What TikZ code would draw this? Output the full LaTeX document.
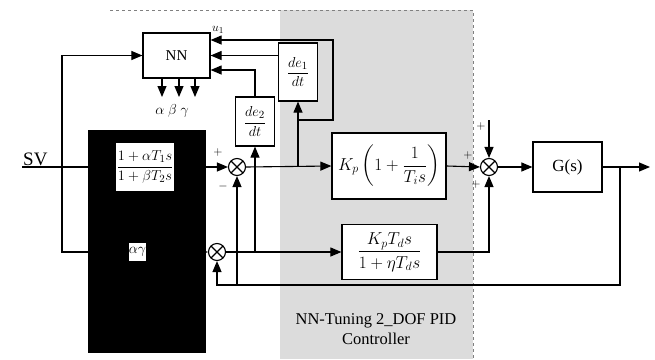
\documentclass[tikz,border=0pt]{standalone}
\usepackage{amsmath}
\usepackage{fontspec}
\setmainfont{Liberation Serif}
\usetikzlibrary{arrows.meta,positioning,calc}
\definecolor{PanelGray}{RGB}{220,220,220}
\tikzset{
  blk/.style={draw, line width=1.2pt, fill=white, inner sep=1pt},
  sumj/.style={circle, draw, line width=1.1pt, fill=white, minimum size=17pt, inner sep=0pt,
    path picture={\draw[line width=1.1pt] (path picture bounding box.north west)--(path picture bounding box.south east)
      (path picture bounding box.north east)--(path picture bounding box.south west);}},
  sig/.style={-{Triangle[length=11pt,width=9pt]}, line width=1.1pt},
  sgn/.style={font=\fontsize{13}{15}\selectfont, inner sep=1pt},
  bigmath/.style={font=\fontsize{17}{19}\selectfont},
}

\begin{document}
\begin{tikzpicture}[x=1pt, y=-1pt, every node/.style={font=\fontsize{15}{17}\selectfont}]
      \useasboundingbox (0,0) rectangle (655,359);
      % panels
      \fill[PanelGray] (280,10) rectangle (473,359);
      \draw[dashed, gray] (110,10) -- (473,10) -- (473,359);
      \fill[black] (88,130) rectangle (206,353);

      % blocks
      \node[blk, minimum width=67pt, minimum height=45pt] (nn) at (176.5,55.5) {NN};
      \node[blk, minimum width=39pt, minimum height=58pt] (de1) at (298,72) {$\dfrac{de_1}{dt}$};
      \node[blk, minimum width=39pt, minimum height=49pt] (de2) at (255,121.5) {$\dfrac{de_2}{dt}$};
      \node[blk, minimum width=56pt, minimum height=50pt] (pre) at (145,167) {$\dfrac{1+\alpha T_1 s}{1+\beta T_2 s}$};
      \node[blk, minimum width=19pt, minimum height=19pt] (ag) at (137.5,252) {$\alpha\gamma$};
      \node[blk, bigmath, minimum width=114pt, minimum height=66pt] (kp) at (389,166) {$K_p\left(1+\dfrac{1}{T_i s}\right)$};
      \node[blk, bigmath, minimum width=95pt, minimum height=55pt] (kd) at (389.5,252) {$\dfrac{K_p T_d s}{1+\eta T_d s}$};
      \node[blk, bigmath, minimum width=69pt, minimum height=50pt] (g) at (567.5,167) {G(s)};
      \node[sumj] (j1) at (237,167) {};
      \node[sumj] (j2) at (217,252) {};
      \node[sumj] (j3) at (489,167) {};

      % points
      \coordinate (sv) at (22,167);
      \coordinate (b0) at (62,167);
      \coordinate (e1) at (298,167);
      \coordinate (u1) at (298,120);
      \coordinate (u1c) at (333,40);
      \coordinate (e2) at (255,252);
      \coordinate (yb) at (620,167);
      \coordinate (fb) at (620,285);
      \coordinate (r) at (489,120);
      \coordinate (y) at (650,167);

      % signals
      \draw[line width=1.1pt] (sv) -- (pre.west);
      \node[anchor=south west, inner sep=1pt, font=\fontsize{19}{21}\selectfont] (svl) at (sv) {SV};
      \draw[sig] (b0) |- (nn.west);
      \draw[sig] (b0) |- (ag.west);
      \draw[sig] (pre.east) -- (j1.west);
      \draw[sig] (ag.east) -- (j2.west);
      \draw[sig] (j1.east) -- (kp.west);
      \draw[sig] (j2.east) -- (kd.west);
      \draw[sig] (e1) -- (de1.south);
      \draw[sig] (u1) -| (u1c) -- (nn.east |- u1c);
      \node[sgn] (u1l) at (218,30) {$u_1$};
      \draw[sig] (de1.west |- nn.east) -- (nn.east);
      \draw[sig] (e2) -- (de2.south);
      \draw[sig] (de2.north) |- ($(nn.east)+(0,14.5)$);
      \foreach \x [count=\i] in {162,179,195} {
        \coordinate (o\i) at (\x,97);
        \draw[sig] (nn.south -| o\i) -- (o\i);
      }
      \node (abc) at (172,111) {$\alpha\ \beta\ \gamma$};

      % feedback and output
      \draw[sig] (yb) -- (fb) -| (j2.south);
      \draw[sig] (j1.south |- fb) -- (j1.south);
      \draw[sig] (kp.east) -- (j3.west);
      \draw[sig] (kd.east) -| (j3.south);
      \draw[sig] (r) -- (j3.north);
      \draw[sig] (j3.east) -- (g.west);
      \draw[sig] (g.east) -- (y);

      % signs
      \node[sgn] at (218,152) {$+$};
      \node[sgn] at (223,186) {$-$};
      \node[sgn] at (468,155) {$+$};
      \node[sgn] at (476,184) {$+$};
      \node[sgn] at (481,126) {$+$};

      \node[align=center, font=\fontsize{16.5}{20}\selectfont] (title) at (376,329) {NN-Tuning 2\_DOF PID\\Controller};
    \end{tikzpicture}
\end{document}
